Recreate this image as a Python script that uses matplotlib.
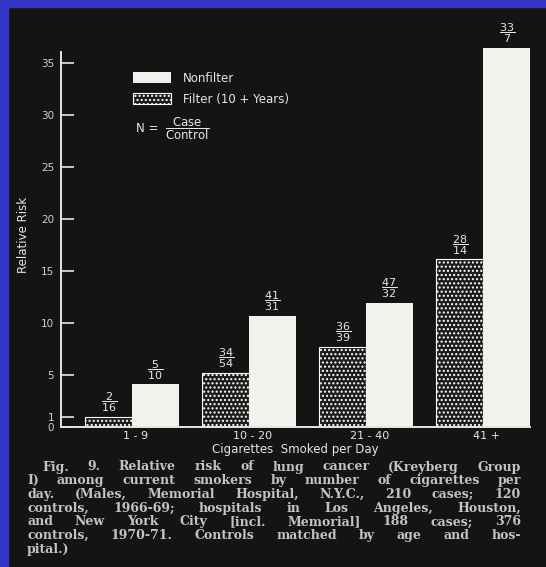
import numpy as np
import matplotlib
matplotlib.use("Agg")
import matplotlib.pyplot as plt
from matplotlib.patches import Rectangle

# data
groups = ["1 - 9", "10 - 20", "21 - 40", "41 +"]
filter_rr = [1.0, 5.2, 7.7, 16.1]
nonfilter_rr = [4.1, 10.7, 11.9, 36.4]
filter_case = [2, 34, 36, 28]
filter_ctrl = [16, 54, 39, 14]
nonfilter_case = [5, 41, 47, 33]
nonfilter_ctrl = [10, 31, 32, 7]
yticks = [0, 1, 5, 10, 15, 20, 25, 30, 35]

caption = [
    "Fig. 9. Relative risk of lung cancer (Kreyberg Group",
    "I) among current smokers by number of cigarettes per",
    "day. (Males, Memorial Hospital, N.Y.C., 210 cases; 120",
    "controls, 1966-69; hospitals in Los Angeles, Houston,",
    "and New York City [incl. Memorial] 188 cases; 376",
    "controls, 1970-71. Controls matched by age and hos-",
    "pital.)",
]

W, H = 546, 567
BG = "#141414"
FG = "#e6e6e6"
plt.rcParams['mathtext.fontset'] = 'dejavusans'
plt.rcParams['hatch.color'] = 'white'
plt.rcParams['hatch.linewidth'] = 1.0

fig = plt.figure(figsize=(W / 100, H / 100), dpi=100, facecolor=BG)
# blue slide border on left and top
fig.add_artist(Rectangle((0, 0), 8 / W, 1, transform=fig.transFigure, color="#3434c8", zorder=0))
fig.add_artist(Rectangle((0, 1 - 7 / H), 1, 7 / H, transform=fig.transFigure, color="#3434c8", zorder=0))

ax = fig.add_axes([61 / W, 140 / H, 469 / W, 385 / H])
ax.set_facecolor(BG)
x = np.arange(len(groups))
w = 0.4
b1 = ax.bar(x - w / 2, filter_rr, w, color="#1c1c1c", edgecolor="white", hatch="....",
            linewidth=0.8, label="Filter (10 + Years)")
b2 = ax.bar(x + w / 2, nonfilter_rr, w, color="#f3f1ec", edgecolor="#f3f1ec",
            linewidth=0, label="Nonfilter", clip_on=False)

def frac(xs, ys, nums, dens):
    for xi, yi, n, d in zip(xs, ys, nums, dens):
        ax.annotate(r"$\dfrac{%d}{%d}$" % (n, d), (xi, yi), xytext=(0, 2),
                    textcoords="offset points", ha="center", va="bottom",
                    color=FG, fontsize=8, annotation_clip=False)

frac(x - w / 2, filter_rr, filter_case, filter_ctrl)
frac(x + w / 2, nonfilter_rr, nonfilter_case, nonfilter_ctrl)

ax.set_xlim(-0.607, 3.40)
ax.set_ylim(0, 37)
for s in ["top", "right"]:
    ax.spines[s].set_visible(False)
ax.spines["left"].set_bounds(0, 36)
for s in ["left", "bottom"]:
    ax.spines[s].set_color(FG)
    ax.spines[s].set_linewidth(1.4)
ax.set_yticks(yticks)
ax.tick_params(axis="y", direction="in", length=9, width=1.2, color=FG,
               labelcolor="#d0d0d0", labelsize=7.5, pad=5)
ax.set_xticks(x + 0.03, groups)
ax.tick_params(axis="x", length=0, labelcolor=FG, labelsize=8, pad=3)
ax.set_xlabel("Cigarettes  Smoked per Day", color=FG, fontsize=8.5, labelpad=1)
ax.set_ylabel("Relative Risk", color=FG, fontsize=8.5, labelpad=8)

leg = ax.legend(handles=[b2, b1], loc="upper left", frameon=False,
                bbox_to_anchor=(133 / W, 1 - 72 / H), bbox_transform=fig.transFigure,
                borderaxespad=0, borderpad=0, fontsize=8.5, handlelength=3.2,
                handleheight=1.05, handletextpad=1.0, labelspacing=0.65)
for t in leg.get_texts():
    t.set_color(FG)

fig.text(136 / W, 1 - 129 / H, "N =", color=FG, fontsize=8.5, va="center")
fig.text(165 / W, 1 - 129 / H, r"$\dfrac{\mathrm{Case}}{\mathrm{Control}}$",
         color=FG, fontsize=8.5, va="center")

# justified caption, placed word by word
fig.canvas.draw()
r = fig.canvas.get_renderer()
left, right = 27, 521
for i, line in enumerate(caption):
    y = 1 - (467 + i * 13.7) / H
    words = line.split()
    texts = [fig.text(0, y, wd, color="#c4c4c4", fontsize=9, family="DejaVu Serif",
                      fontweight="bold", va="center") for wd in words]
    widths = [t.get_window_extent(r).width for t in texts]
    x0 = 42 if i == 0 else left
    if i == len(caption) - 1:
        gap = 6
    else:
        gap = (right - x0 - sum(widths)) / (len(words) - 1)
    xp = x0
    for t, wd in zip(texts, widths):
        t.set_x(xp / W)
        xp += wd + gap

fig.savefig("out.png", dpi=100, facecolor=BG)
